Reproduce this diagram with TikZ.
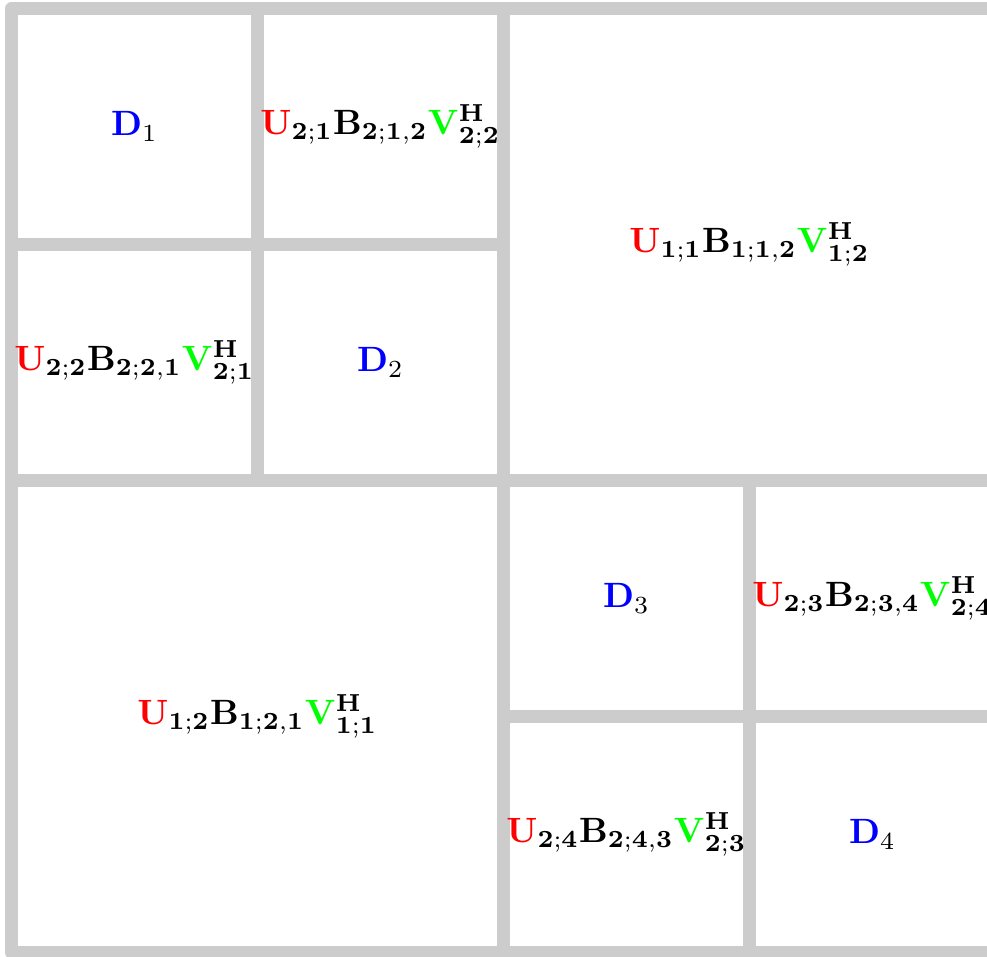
\documentclass[tikz,border=0pt]{standalone}
\usepackage{amsmath}
\usepackage{amssymb}
\usepackage{xcolor}
\definecolor{hgray}{RGB}{204,204,204}
\definecolor{hred}{RGB}{255,0,0}
\definecolor{hgreen}{RGB}{0,255,0}
\definecolor{hblue}{RGB}{0,0,255}
\usepackage{tikz}
\usetikzlibrary{positioning}

% low-rank and dense blocks
\newcommand{\lrblk}[3]{{\color{hred}\mathbf{U}}_{\mathbf{#1}}\mathbf{B}_{\mathbf{#2}}{\color{hgreen}\mathbf{V}}^{\mathbf{H}}_{\mathbf{#3}}}
\newcommand{\dblk}[1]{{\color{hblue}\mathbf{D}}_{#1}}

\begin{document}
\begin{tikzpicture}[x=0.01cm, y=-0.01cm,
    gridline/.style={draw=hgray, line width=1.3mm, line join=round},
    blk/.style={font=\normalsize, align=center}]
  \clip (0,0) rectangle (987,956);

  % grid
  \draw[gridline] (11.5,8.5) rectangle (995.5,952.5);
  \draw[gridline] (257.5,8.5) -- (257.5,480.5);
  \draw[gridline] (503.5,8.5) -- (503.5,952.5);
  \draw[gridline] (749.5,480.5) -- (749.5,952.5);
  \draw[gridline] (11.5,244.5) -- (503.5,244.5);
  \draw[gridline] (11.5,480.5) -- (995.5,480.5);
  \draw[gridline] (503.5,716.5) -- (995.5,716.5);

  % level 2 blocks, top left
  \node[blk] (d1) at (134.5,126.5) {$\dblk{1}$};
  \node[blk] (b12) at (380.5,126.5) {$\lrblk{2;1}{2;1,2}{2;2}$};
  \node[blk] (b21) at (134.5,362.5) {$\lrblk{2;2}{2;2,1}{2;1}$};
  \node[blk] (d2) at (380.5,362.5) {$\dblk{2}$};

  % level 1 blocks
  \node[blk] (a12) at (749.5,244.5) {$\lrblk{1;1}{1;1,2}{1;2}$};
  \node[blk] (a21) at (257.5,716.5) {$\lrblk{1;2}{1;2,1}{1;1}$};

  % level 2 blocks, bottom right
  \node[blk] (d3) at (626.5,598.5) {$\dblk{3}$};
  \node[blk] (b34) at (872.5,598.5) {$\lrblk{2;3}{2;3,4}{2;4}$};
  \node[blk] (b43) at (626.5,834.5) {$\lrblk{2;4}{2;4,3}{2;3}$};
  \node[blk] (d4) at (872.5,834.5) {$\dblk{4}$};
\end{tikzpicture}
\end{document}
